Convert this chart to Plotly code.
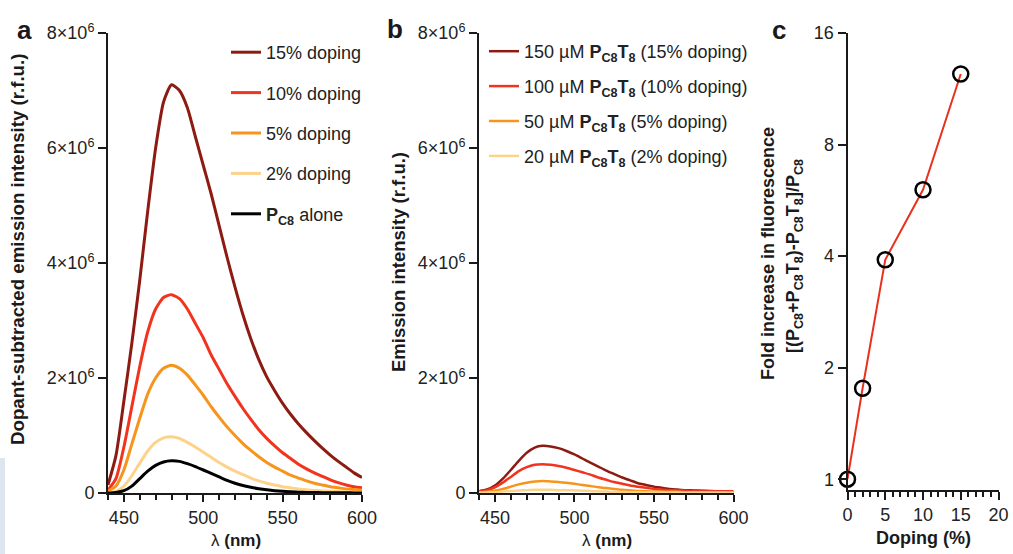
import plotly.graph_objects as go

# ---- data -------------------------------------------------------------
wavelength = [440, 445, 450, 455, 460, 465, 470, 475, 480, 485, 490, 495, 500,
              505, 510, 515, 520, 525, 530, 535, 540, 545, 550, 555, 560, 565,
              570, 575, 580, 585, 590, 595, 600]

# panel a: dopant-subtracted emission (x 10^6 r.f.u.)
a_15 = [0.14, 0.65, 1.6, 2.6, 3.7, 4.9, 6.0, 6.8, 7.1, 7.0, 6.7, 6.2, 5.7, 5.2,
        4.65, 4.1, 3.58, 3.1, 2.68, 2.32, 2.02, 1.78, 1.56, 1.37, 1.2, 1.05,
        0.91, 0.78, 0.66, 0.55, 0.45, 0.35, 0.27]
a_10 = [0.05, 0.25, 0.8, 1.5, 2.2, 2.8, 3.2, 3.4, 3.45, 3.38, 3.2, 2.95, 2.7,
        2.4, 2.15, 1.9, 1.68, 1.47, 1.28, 1.1, 0.95, 0.82, 0.7, 0.6, 0.5, 0.42,
        0.35, 0.29, 0.23, 0.18, 0.14, 0.11, 0.09]
a_5 = [0.03, 0.12, 0.4, 0.85, 1.3, 1.72, 2.0, 2.17, 2.22, 2.17, 2.05, 1.88, 1.7,
       1.5, 1.32, 1.15, 1.0, 0.86, 0.74, 0.63, 0.53, 0.45, 0.38, 0.31, 0.26,
       0.21, 0.17, 0.14, 0.11, 0.09, 0.07, 0.06, 0.05]
a_2 = [0.0, 0.03, 0.12, 0.3, 0.52, 0.73, 0.88, 0.96, 0.98, 0.95, 0.88, 0.8, 0.71,
       0.62, 0.53, 0.45, 0.38, 0.32, 0.26, 0.21, 0.17, 0.14, 0.11, 0.09, 0.07,
       0.055, 0.045, 0.035, 0.03, 0.025, 0.02, 0.015, 0.01]
a_pc8 = [0.0, 0.01, 0.04, 0.12, 0.25, 0.38, 0.48, 0.54, 0.56, 0.55, 0.51, 0.46,
         0.4, 0.34, 0.28, 0.22, 0.17, 0.13, 0.1, 0.075, 0.055, 0.04, 0.03, 0.02,
         0.015, 0.01, 0.008, 0.006, 0.005, 0.004, 0.003, 0.002, 0.0]

# panel b: emission of the dopant alone (x 10^6 r.f.u.)
b_150 = [0.03, 0.06, 0.13, 0.25, 0.4, 0.56, 0.7, 0.79, 0.82, 0.81, 0.78, 0.73,
         0.67, 0.6, 0.53, 0.46, 0.39, 0.33, 0.27, 0.22, 0.17, 0.14, 0.11, 0.09,
         0.07, 0.06, 0.05, 0.045, 0.04, 0.035, 0.03, 0.03, 0.03]
b_100 = [0.03, 0.05, 0.1, 0.18, 0.28, 0.38, 0.45, 0.49, 0.5, 0.49, 0.47, 0.44,
         0.4, 0.36, 0.32, 0.27, 0.23, 0.19, 0.16, 0.13, 0.11, 0.09, 0.07, 0.06,
         0.05, 0.045, 0.04, 0.035, 0.035, 0.03, 0.03, 0.03, 0.03]
b_50 = [0.01, 0.02, 0.04, 0.07, 0.11, 0.15, 0.18, 0.2, 0.21, 0.2, 0.19, 0.18,
        0.16, 0.14, 0.12, 0.1, 0.085, 0.07, 0.055, 0.045, 0.035, 0.03, 0.025,
        0.02, 0.02, 0.02, 0.015, 0.015, 0.015, 0.015, 0.015, 0.015, 0.015]
b_20 = [0.005, 0.01, 0.015, 0.025, 0.035, 0.045, 0.05, 0.055, 0.055, 0.055,
        0.05, 0.05, 0.045, 0.04, 0.035, 0.03, 0.025, 0.02, 0.018, 0.015, 0.012,
        0.01, 0.01, 0.008, 0.008, 0.007, 0.006, 0.006, 0.005, 0.005, 0.005,
        0.005, 0.005]

# panel c: fold increase vs doping
doping = [0, 2, 5, 10, 15]
fold = [1.0, 1.76, 3.91, 6.04, 12.4]

a_labels = ["15% doping", "10% doping", "5% doping", "2% doping",
            "<b>P<sub>C8</sub></b> alone"]
b_labels = ["150 µM <b>P<sub>C8</sub>T<sub>8</sub></b> (15% doping)",
            "100 µM <b>P<sub>C8</sub>T<sub>8</sub></b> (10% doping)",
            "50 µM <b>P<sub>C8</sub>T<sub>8</sub></b> (5% doping)",
            "20 µM <b>P<sub>C8</sub>T<sub>8</sub></b> (2% doping)"]
y_ticks = [0, 2e6, 4e6, 6e6, 8e6]
y_ticktext = ["0", "2×10<sup>6</sup>", "4×10<sup>6</sup>",
              "6×10<sup>6</sup>", "8×10<sup>6</sup>"]
fold_ticks = [1, 2, 4, 8, 16]
doping_ticks = [0, 5, 10, 15, 20]

# ---- style ------------------------------------------------------------
W, H = 1013, 554
FONT = "Arial, Liberation Sans, Helvetica, sans-serif"
INK = "#1a1a1a"
colors = ["#8e1b12", "#f2331d", "#f7941e", "#fdd38c", "#000000"]


def px_x(v):
    return v / W


def px_y(v):
    return 1 - v / H


fig = go.Figure()

M = 1e6
for ys, name, c in zip([a_15, a_10, a_5, a_2, a_pc8], a_labels, colors):
    fig.add_trace(go.Scatter(
        x=wavelength, y=[v * M for v in ys], mode="lines", name=name,
        line=dict(color=c, width=3, shape="spline", smoothing=0.6),
        xaxis="x", yaxis="y", legend="legend", legendgroup=name))

for ys, name, c in zip([b_150, b_100, b_50, b_20], b_labels, colors[:4]):
    fig.add_trace(go.Scatter(
        x=wavelength, y=[v * M for v in ys], mode="lines", name=name,
        line=dict(color=c, width=2.5, shape="spline", smoothing=0.6),
        xaxis="x2", yaxis="y2", legend="legend2", legendgroup=name))

fig.add_trace(go.Scatter(
    x=doping, y=fold, mode="lines+markers", showlegend=False,
    line=dict(color="#e8321e", width=2),
    marker=dict(symbol="circle-open", size=15, color="black",
                line=dict(width=2.5, color="black")),
    cliponaxis=False, xaxis="x3", yaxis="y3"))

tickfont = dict(family=FONT, size=18, color="#222")
common_axis = dict(showline=True, linecolor=INK, linewidth=2, ticks="outside",
                   tickcolor=INK, tickwidth=2, showgrid=False, zeroline=False,
                   tickfont=tickfont, fixedrange=True, automargin=False)

spec_x = dict(common_axis, range=[440, 600], tickvals=[450, 500, 550, 600],
              ticklen=7, minor=dict(dtick=10, tick0=440, ticks="outside",
                                    ticklen=5, tickwidth=2, tickcolor=INK))
spec_y = dict(common_axis, range=[0, 8e6], tickvals=y_ticks,
              ticktext=y_ticktext, ticklen=8)

legend_font = dict(family=FONT, size=18, color="#222")
y_dom = [px_y(493), px_y(33)]
fig.update_layout(
    width=W, height=H,
    margin=dict(l=0, r=0, t=0, b=0, pad=0, autoexpand=False),
    paper_bgcolor="white", plot_bgcolor="white",
    font=dict(family=FONT, color=INK),
    xaxis=dict(spec_x, domain=[px_x(108), px_x(362)], anchor="y"),
    yaxis=dict(spec_y, domain=y_dom, anchor="x"),
    xaxis2=dict(spec_x, domain=[px_x(479), px_x(733.5)], anchor="y2"),
    yaxis2=dict(spec_y, domain=y_dom, anchor="x2"),
    xaxis3=dict(common_axis, domain=[px_x(847.5), px_x(998.5)], anchor="y3",
                range=[0, 20], tickvals=doping_ticks, ticklen=8,
                minor=dict(dtick=1, tick0=0, ticks="outside", ticklen=5,
                           tickwidth=2, tickcolor=INK)),
    yaxis3=dict(common_axis, domain=[px_y(489.5), px_y(33)], anchor="x3",
                type="log", range=[-0.0278, 1.2041], tickvals=fold_ticks,
                ticktext=[str(t) for t in fold_ticks], ticklen=8),
    legend=dict(x=px_x(226), y=px_y(34), xanchor="left", yanchor="top",
                bgcolor="rgba(0,0,0,0)", tracegroupgap=14, font=legend_font),
    legend2=dict(x=px_x(484), y=px_y(33), xanchor="left", yanchor="top",
                 bgcolor="rgba(0,0,0,0)", tracegroupgap=8.5, font=legend_font),
    showlegend=True,
)

annotations = [
    # panel letters
    dict(text="<b>a</b>", x=px_x(24), y=px_y(30), font=dict(size=26)),
    dict(text="<b>b</b>", x=px_x(395), y=px_y(29), font=dict(size=26)),
    dict(text="<b>c</b>", x=px_x(779), y=px_y(30), font=dict(size=26)),
    # axis titles
    dict(text="λ <b>(nm)</b>", x=px_x(236), y=px_y(540), font=dict(size=17)),
    dict(text="λ <b>(nm)</b>", x=px_x(607), y=px_y(540), font=dict(size=17)),
    dict(text="<b>Doping (%)</b>", x=px_x(923), y=px_y(538),
         font=dict(size=18)),
    dict(text="<b>Dopant-subtracted emission intensity (r.f.u.)</b>",
         x=px_x(18), y=px_y(250), textangle=-90, font=dict(size=18.7)),
    dict(text="<b>Emission intensity (r.f.u.)</b>", x=px_x(398),
         y=px_y(262), textangle=-90, font=dict(size=18.5)),
    dict(text="<b>Fold increase in fluorescence</b>", x=px_x(768),
         y=px_y(254), textangle=-90, font=dict(size=18)),
    dict(text="<b>[(P<sub>C8</sub>+P<sub>C8</sub>T<sub>8</sub>)-"
              "P<sub>C8</sub>T<sub>8</sub>]/P<sub>C8</sub></b>",
         x=px_x(794), y=px_y(256), textangle=-90, font=dict(size=18)),
]
for a in annotations:
    a.update(xref="paper", yref="paper", showarrow=False, xanchor="center",
             yanchor="middle")
    a["font"] = dict(a["font"], family=FONT, color=INK)
fig.update_layout(annotations=annotations)

# pale strip along the lower-left edge of the figure
fig.add_shape(type="rect", xref="paper", yref="paper", x0=0, x1=px_x(5),
              y0=0, y1=px_y(458), fillcolor="#dde5f0", line=dict(width=0),
              layer="below")

fig.write_html("out.html")
